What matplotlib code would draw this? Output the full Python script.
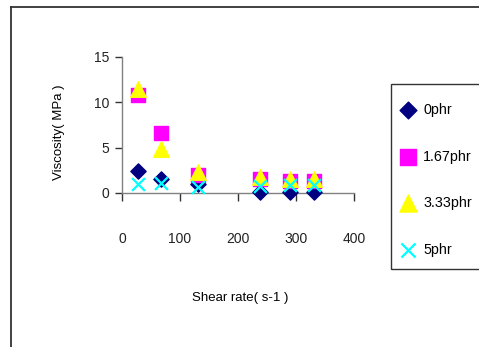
import matplotlib.pyplot as plt
from matplotlib.lines import Line2D
from matplotlib.patches import Rectangle

plt.rcParams['font.family'] = ['Liberation Sans', 'DejaVu Sans']

# data
shear_rate = [28, 67, 131, 238, 290, 331]
visc_0phr = [2.4, 1.5, 1.0, 0.1, 0.1, 0.1]
visc_167phr = [10.8, 6.6, 2.0, 1.5, 1.3, 1.3]
visc_333phr = [11.5, 4.8, 2.3, 1.8, 1.5, 1.5]
visc_5phr = [1.0, 1.1, 0.7, 0.8, 0.9, 0.9]
series_names = ['0phr', '1.67phr', '3.33phr', '5phr']

W, H = 479, 347
fig = plt.figure(figsize=(W / 100, H / 100), dpi=100)

# outer chart frame (left and top edges visible)
fig.add_artist(Line2D([11 / W, 11 / W], [0, 1 - 7 / H], color='#333333', lw=1.3))
fig.add_artist(Line2D([11 / W, 1], [1 - 7 / H, 1 - 7 / H], color='#333333', lw=1.3))

ax = fig.add_axes([122 / W, 1 - 193 / H, (354 - 122) / W, (193 - 57) / H])

ax.scatter(shear_rate, visc_0phr, marker='D', s=60, color='#000080', label=series_names[0], zorder=3, clip_on=False)
ax.scatter(shear_rate, visc_167phr, marker='s', s=115, color='#FF00FF', label=series_names[1], zorder=3, clip_on=False)
ax.scatter(shear_rate, visc_333phr, marker='^', s=125, color='#FFFF00', label=series_names[2], zorder=4, clip_on=False)
ax.scatter(shear_rate, visc_5phr, marker='x', s=85, color='#00FFFF', linewidths=1.6, label=series_names[3], zorder=5, clip_on=False)

ax.set_xlim(0, 400)
ax.set_ylim(0, 15)
ax.set_xticks([0, 100, 200, 300, 400])
ax.set_yticks([0, 5, 10, 15])
for s in ['top', 'right']:
    ax.spines[s].set_visible(False)
for s in ['left', 'bottom']:
    ax.spines[s].set_color('#808080')
    ax.spines[s].set_linewidth(1.0)
ax.tick_params(axis='x', direction='out', length=6, width=1, color='#333333', pad=22,
               labelsize=10, labelcolor='#222222')
ax.tick_params(axis='y', direction='out', length=5, width=1, color='#333333', pad=4,
               labelsize=10, labelcolor='#222222')

fig.text(59 / W, 1 - 132 / H, 'Viscosity( MPa )', rotation=90, ha='center', va='center', fontsize=9.5)
fig.text(240 / W, 1 - 298 / H, 'Shear rate( s-1 )', ha='center', va='center', fontsize=9.5)

# legend box
fig.add_artist(Rectangle((391 / W, 1 - 269 / H), 100 / W, (269 - 84) / H, transform=fig.transFigure,
                         fill=False, edgecolor='#333333', lw=1.0))
leg = fig.legend(loc='upper left', bbox_to_anchor=(401 / W, 1 - 103 / H), borderaxespad=0,
                 frameon=False, fontsize=10.3, labelspacing=2.28, borderpad=0,
                 handletextpad=0.55, handlelength=1.0, scatterpoints=1, markerscale=1.1)

fig.savefig('out.png', dpi=100)
